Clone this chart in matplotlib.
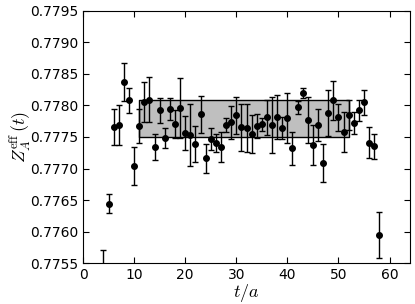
import numpy as np
import matplotlib
matplotlib.use("Agg")
import matplotlib.pyplot as plt

t = np.arange(4, 59)
z_eff = [0.77520, 0.77644, 0.77766, 0.77769, 0.77837, 0.77808, 0.77704, 0.77768,
         0.77805, 0.77809, 0.77734, 0.77792, 0.77748, 0.77794, 0.77771, 0.77796,
         0.77756, 0.77753, 0.77739, 0.77786, 0.77716, 0.77747, 0.77740, 0.77734,
         0.77769, 0.77773, 0.77784, 0.77765, 0.77764, 0.77754, 0.77767, 0.77770,
         0.77781, 0.77769, 0.77781, 0.77764, 0.77780, 0.77732, 0.77797, 0.77820,
         0.77777, 0.77737, 0.77769, 0.77709, 0.77788, 0.77808, 0.77781, 0.77758,
         0.77785, 0.77772, 0.77792, 0.77805, 0.77741, 0.77735, 0.77595]
z_err = [0.00051, 0.00015, 0.00028, 0.00032, 0.00030, 0.00020, 0.00030, 0.00027,
         0.00032, 0.00036, 0.00021, 0.00020, 0.00016, 0.00017, 0.00022, 0.00048,
         0.00027, 0.00049, 0.00029, 0.00029, 0.00023, 0.00017, 0.00014, 0.00024,
         0.00011, 0.00026, 0.00030, 0.00037, 0.00038, 0.00030, 0.00019, 0.00010,
         0.00028, 0.00044, 0.00035, 0.00017, 0.00039, 0.00026, 0.00010, 0.00008,
         0.00036, 0.00032, 0.00025, 0.00030, 0.00036, 0.00031, 0.00021, 0.00032,
         0.00024, 0.00017, 0.00017, 0.00020, 0.00024, 0.00020, 0.00036]

fit_range = [11, 52]
fit_mean = 0.777793
fit_err = 0.000293

plt.rcParams["mathtext.fontset"] = "cm"
fig = plt.figure(figsize=(4.15, 3.04), dpi=100)
ax = fig.add_axes([0.2, 0.134, 0.788, 0.831])

ax.fill_between(fit_range, fit_mean - fit_err, fit_mean + fit_err,
                facecolor="#bfbfbf", edgecolor="black", lw=1)
ax.errorbar(t, z_eff, yerr=z_err, fmt="o", color="black", ms=4,
            elinewidth=1, capsize=2, capthick=1, ecolor="black")

ax.set_xlim(0, 64)
ax.set_ylim(0.7755, 0.7795)
ax.set_xticks(np.arange(0, 61, 10))
ax.set_yticks(np.arange(0.7755, 0.77951, 0.0005))
ax.yaxis.set_major_formatter(matplotlib.ticker.FormatStrFormatter("%.4f"))
ax.tick_params(direction="in", top=True, right=True, labelsize=10, length=4)
ax.set_xlabel(r"$t/a$", fontsize=13, labelpad=0)
ax.set_ylabel(r"$Z_A^{\rm eff}\,(t)$", fontsize=13, labelpad=-3)

fig.savefig("out.png", dpi=100)
